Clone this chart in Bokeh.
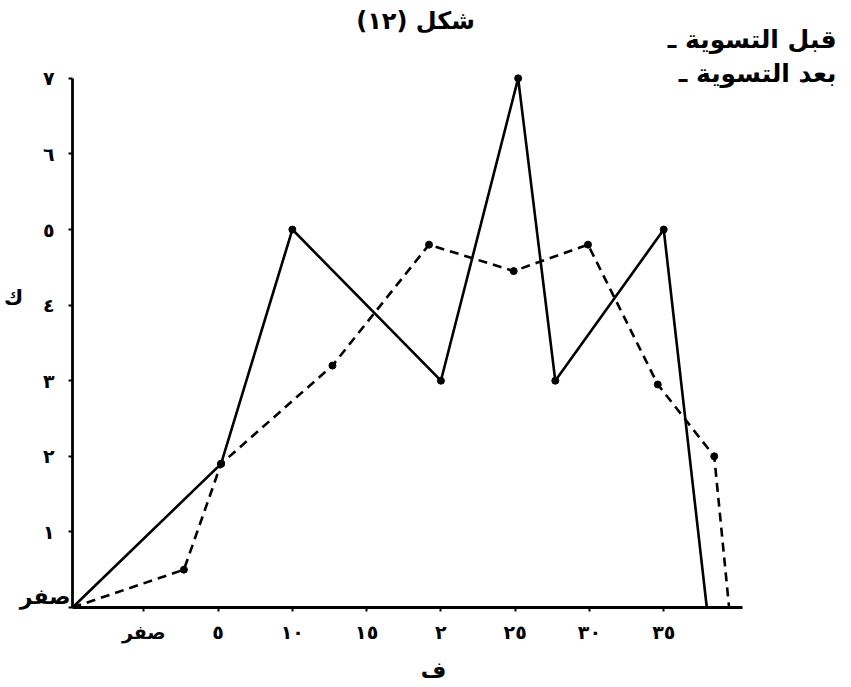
from bokeh.plotting import figure
from bokeh.models import Range1d, FixedTicker, Label
from bokeh.embed import file_html
from bokeh.resources import INLINE

# ---- data ----
x_ticks = [0, 5, 10, 15, 20, 25, 30, 35]
x_tick_labels = ["صفر", "٥", "١٠", "١٥", "٢", "٢٥", "٣٠", "٣٥"]
y_ticks = [0, 1, 2, 3, 4, 5, 6, 7]
y_tick_labels = ["", "١", "٢", "٣", "٤", "٥", "٦", "٧"]
y_zero_label = "صفر"

before_x = [-4.8, 5.2, 10.0, 20.0, 25.2, 27.7, 35.0, 37.9]
before_y = [0.0, 1.9, 5.0, 3.0, 7.0, 3.0, 5.0, 0.0]

after_x = [-4.8, 2.7, 5.2, 12.7, 19.2, 24.9, 29.9, 34.6, 38.4, 39.4]
after_y = [0.0, 0.5, 1.9, 3.2, 4.8, 4.45, 4.8, 2.95, 2.0, 0.0]

title_text = "\u200fشكل (١٢)\u200f"
legend_before = "قبل التسوية ـ"
legend_after = "بعد التسوية ـ"
x_title = "ف"
y_title = "ك"

FONT = "DejaVu Sans"
X0, Y0 = -4.8, 0.0   # where the two axes meet

p = figure(width=851, height=687,
           x_range=Range1d(-9.647, 47.64), y_range=Range1d(-1.0586, 8.03),
           output_backend="svg", toolbar_location=None,
           min_border_left=0, min_border_right=0,
           min_border_top=0, min_border_bottom=0)
p.grid.visible = False
p.outline_line_color = None
p.background_fill_color = "white"
p.border_fill_color = "white"

for ax in (p.xaxis[0], p.yaxis[0]):
    ax.axis_line_width = 2.8
    ax.axis_line_color = "black"
    ax.major_tick_in = 0
    ax.major_tick_out = 4
    ax.major_tick_line_width = 2
    ax.major_tick_line_color = "black"
    ax.minor_tick_line_color = None
    ax.major_label_text_font = FONT
    ax.major_label_text_font_style = "bold"
    ax.major_label_text_font_size = "19px"
    ax.major_label_text_color = "black"

xa = p.xaxis[0]
xa.fixed_location = Y0
xa.ticker = FixedTicker(ticks=x_ticks)
xa.major_label_overrides = {t: l for t, l in zip(x_ticks, x_tick_labels)}
xa.major_label_standoff = 10
xa.bounds = (X0, 40.3)

ya = p.yaxis[0]
ya.fixed_location = X0
ya.ticker = FixedTicker(ticks=y_ticks)
ya.major_label_overrides = {t: l for t, l in zip(y_ticks, y_tick_labels)}
ya.major_label_standoff = 14
ya.bounds = (Y0, 7)

# series
p.line(before_x, before_y, line_color="black", line_width=2.6)
p.scatter(before_x[1:-1], before_y[1:-1], size=7, color="black")
p.line(after_x, after_y, line_color="black", line_width=2.6, line_dash="9 6")
p.scatter(after_x[1:-1], after_y[1:-1], size=7, color="black")

def lab(x, y, text, align="center", size="22px"):
    p.add_layout(Label(x=x, y=y, text=text,
                       text_align=align, text_baseline="middle",
                       text_font=FONT, text_font_style="bold",
                       text_font_size=size, text_color="black"))

lab(18.29, 7.76, title_text, size="24px")
lab(46.63, 7.52, legend_before, align="right", size="25px")
lab(46.63, 7.07, legend_after, align="right", size="25px")
lab(-8.77, 4.09, y_title, size="21px")
lab(19.5, -0.84, x_title, size="22px")
lab(-4.93, 0.14, y_zero_label, align="right", size="22px")

open("out.html", "w").write(file_html(p, INLINE))
